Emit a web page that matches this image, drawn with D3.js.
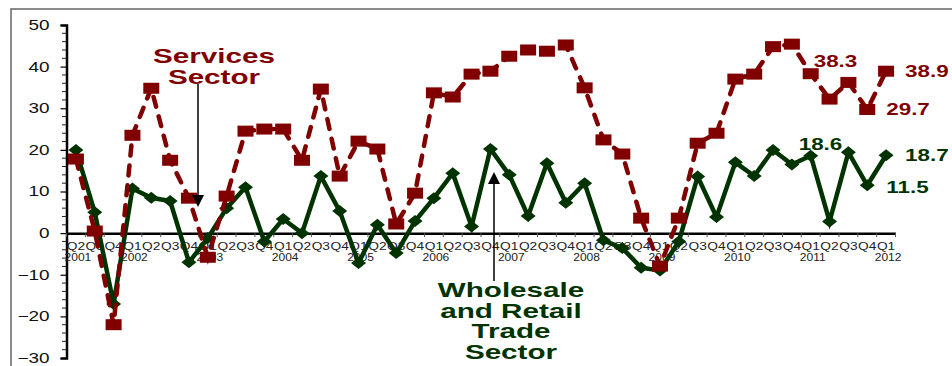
<!DOCTYPE html>
<html>
<head>
<meta charset="utf-8">
<script src="https://cdn.jsdelivr.net/npm/d3@7"></script>
<style>
  body { margin: 0; background: #fff; }
  svg { display: block; font-family: "Liberation Sans", Arial, sans-serif; }
</style>
</head>
<body>
<div id="chart"></div>
<script>
// quarters, Q2 2001 .. Q1 2012
const quarters = [
  "Q2","Q3","Q4",
  "Q1","Q2","Q3","Q4",
  "Q1","Q2","Q3","Q4",
  "Q1","Q2","Q3","Q4",
  "Q1","Q2","Q3","Q4",
  "Q1","Q2","Q3","Q4",
  "Q1","Q2","Q3","Q4",
  "Q1","Q2","Q3","Q4",
  "Q1","Q2","Q3","Q4",
  "Q1","Q2","Q3","Q4",
  "Q1","Q2","Q3","Q4",
  "Q1"
];
// year label shown under the first quarter and every Q1
const years = [
  "2001","","",
  "2002","","","",
  "2003","","","",
  "2004","","","",
  "2005","","","",
  "2006","","","",
  "2007","","","",
  "2008","","","",
  "2009","","","",
  "2010","","","",
  "2011","","","",
  "2012"
];

const services = [
  17.8, 0.5, -22,
  23.5, 34.8, 17.5, 8.4,
  -5.8, 8.9, 24.5, 25,
  25, 17.5, 34.6, 13.7,
  22.1, 20.2, 2.2, 9.6,
  33.7, 32.7, 38.2, 38.9,
  42.5, 44, 43.7, 45.2,
  34.9, 22.4, 19, 3.6,
  -7.9, 3.6, 21.6, 24,
  37, 38.2, 44.8, 45.4,
  38.3, 32.2, 36.2, 29.7,
  38.9
];

const wholesale = [
  20, 5, -17,
  10.7, 8.5, 7.7, -7,
  -1.2, 6, 11, -2,
  3.4, 0, 13.7, 5.3,
  -7.2, 2, -4.8, 2.9,
  8.4, 14.4, 1.6, 20.2,
  14, 4.1, 16.8, 7.3,
  12, -1.7, -3.6, -8.3,
  -9, -2, 13.6, 3.9,
  17, 13.7, 20, 16.5,
  18.6, 2.8, 19.4, 11.5,
  18.7
];

const yTicks = [50, 40, 30, 20, 10, 0, -10, -20, -30];

// end-of-series value labels: [index, dx, dy]
const servicesLabels = [[39, 3, -12], [42, 19, 0], [43, 19, 0]];
const wholesaleLabels = [[39, -12, -11], [42, 19, 2], [43, 19, 0]];

const red = "#800000";
const green = "#003300";

const width = 952, height = 366;

const svg = d3.select("#chart").append("svg")
  .attr("width", width)
  .attr("height", height);

// widen text horizontally like the original
function widen(sel, k) {
  sel.each(function () {
    const w = this.getComputedTextLength();
    d3.select(this)
      .attr("textLength", w * k)
      .attr("lengthAdjust", "spacingAndGlyphs");
  });
}

// outer frame (partly cut off)
svg.append("rect")
  .attr("x", 11).attr("y", 9)
  .attr("width", 980).attr("height", 420)
  .attr("fill", "none")
  .attr("stroke", "#666")
  .attr("stroke-width", 1.5);

const x = d3.scaleBand()
  .domain(d3.range(quarters.length))
  .range([66.5, 895.5])
  .paddingInner(0);

const cx = i => x(i) + x.bandwidth() / 2;

const y = d3.scaleLinear()
  .domain([-30, 50])
  .range([358, 25]);

// y axis
const yAxis = svg.append("g")
  .attr("transform", "translate(66.5,0)")
  .call(d3.axisLeft(y).tickValues(yTicks).tickSize(6).tickPadding(11).tickFormat(d3.format("d")));
yAxis.select(".domain").attr("stroke", "#000").attr("stroke-width", 2.5);
yAxis.selectAll(".tick line").attr("stroke", "#000").attr("stroke-width", 1.2);
yAxis.selectAll(".tick text")
  .attr("fill", "#111")
  .style("font-size", "14px")
  .call(widen, 1.35);

// minor y ticks
svg.append("g")
  .selectAll("line")
  .data(d3.range(-30, 51, 2).filter(v => v % 10 !== 0))
  .join("line")
  .attr("x1", 62).attr("x2", 66.5)
  .attr("y1", d => y(d)).attr("y2", d => y(d))
  .attr("stroke", "#222")
  .attr("stroke-width", 1);

// x axis along zero
const xAxis = svg.append("g")
  .attr("transform", `translate(0,${y(0)})`)
  .call(d3.axisBottom(x).tickSize(0).tickFormat(""));
xAxis.select(".domain").attr("stroke", "#000").attr("stroke-width", 2.5);

svg.append("g")
  .selectAll("line")
  .data(d3.range(quarters.length + 1))
  .join("line")
  .attr("x1", d => 66.5 + d * x.bandwidth())
  .attr("x2", d => 66.5 + d * x.bandwidth())
  .attr("y1", y(0)).attr("y2", y(0) + 4)
  .attr("stroke", "#555")
  .attr("stroke-width", 1);

svg.append("g")
  .selectAll("text")
  .data(quarters)
  .join("text")
  .attr("x", (d, i) => cx(i))
  .attr("y", y(0) + 17)
  .attr("text-anchor", "middle")
  .attr("fill", "#222")
  .style("font-size", "10px")
  .text(d => d)
  .attr("textLength", x.bandwidth() - 0.5)
  .attr("lengthAdjust", "spacingAndGlyphs");

svg.append("g")
  .selectAll("text")
  .data(years)
  .join("text")
  .attr("x", (d, i) => cx(i) + 2)
  .attr("y", y(0) + 28)
  .attr("text-anchor", "middle")
  .attr("fill", "#222")
  .style("font-size", "10px")
  .text(d => d)
  .call(widen, 1.2);

// series lines
const line = d3.line()
  .x((d, i) => cx(i))
  .y(d => y(d));

svg.append("path")
  .datum(wholesale)
  .attr("d", line)
  .attr("fill", "none")
  .attr("stroke", green)
  .attr("stroke-width", 4.5)
  .attr("stroke-linejoin", "miter");

svg.append("g")
  .selectAll("path")
  .data(wholesale)
  .join("path")
  .attr("d", "M-7.5,0L0,-6L7.5,0L0,6Z")
  .attr("transform", (d, i) => `translate(${cx(i)},${y(d)})`)
  .attr("fill", green);

svg.append("path")
  .datum(services)
  .attr("d", line)
  .attr("fill", "none")
  .attr("stroke", red)
  .attr("stroke-width", 4.5)
  .attr("stroke-linecap", "round")
  .attr("stroke-dasharray", "10,10");

svg.append("g")
  .selectAll("rect")
  .data(services)
  .join("rect")
  .attr("x", (d, i) => cx(i) - 8)
  .attr("y", d => y(d) - 5.5)
  .attr("width", 16)
  .attr("height", 11)
  .attr("fill", red);

// value labels
function valueLabels(series, labels, color) {
  svg.append("g")
    .selectAll("text")
    .data(labels)
    .join("text")
    .attr("x", d => cx(d[0]) + d[1])
    .attr("y", d => y(series[d[0]]) + d[2])
    .attr("dy", "0.36em")
    .attr("fill", color)
    .style("font-size", "16px")
    .style("font-weight", "bold")
    .text(d => series[d[0]].toFixed(1))
    .call(widen, 1.4);
}
valueLabels(services, servicesLabels, red);
valueLabels(wholesale, wholesaleLabels, green);

// annotations
function annotation(lines, cxPos, firstY, lineH, color) {
  svg.append("g")
    .selectAll("text")
    .data(lines)
    .join("text")
    .attr("x", cxPos)
    .attr("y", (d, i) => firstY + i * lineH)
    .attr("text-anchor", "middle")
    .attr("fill", color)
    .style("font-size", "21px")
    .style("font-weight", "bold")
    .text(d => d)
    .call(widen, 1.41);
}

function arrow(x0, yFrom, yTip) {
  const dir = yTip > yFrom ? 1 : -1;
  svg.append("line")
    .attr("x1", x0).attr("x2", x0)
    .attr("y1", yFrom).attr("y2", yTip - dir * 10)
    .attr("stroke", "#000")
    .attr("stroke-width", 1.5);
  svg.append("path")
    .attr("d", `M${x0 - 6},${yTip - dir * 12}L${x0 + 6},${yTip - dir * 12}L${x0},${yTip}Z`)
    .attr("fill", "#000");
}

annotation(["Services", "Sector"], 214, 63, 21, red);
arrow(198, 84, 207);

annotation(["Wholesale", "and Retail", "Trade", "Sector"], 511, 297, 20.5, green);
arrow(494, 281, 172);
</script>
</body>
</html>
